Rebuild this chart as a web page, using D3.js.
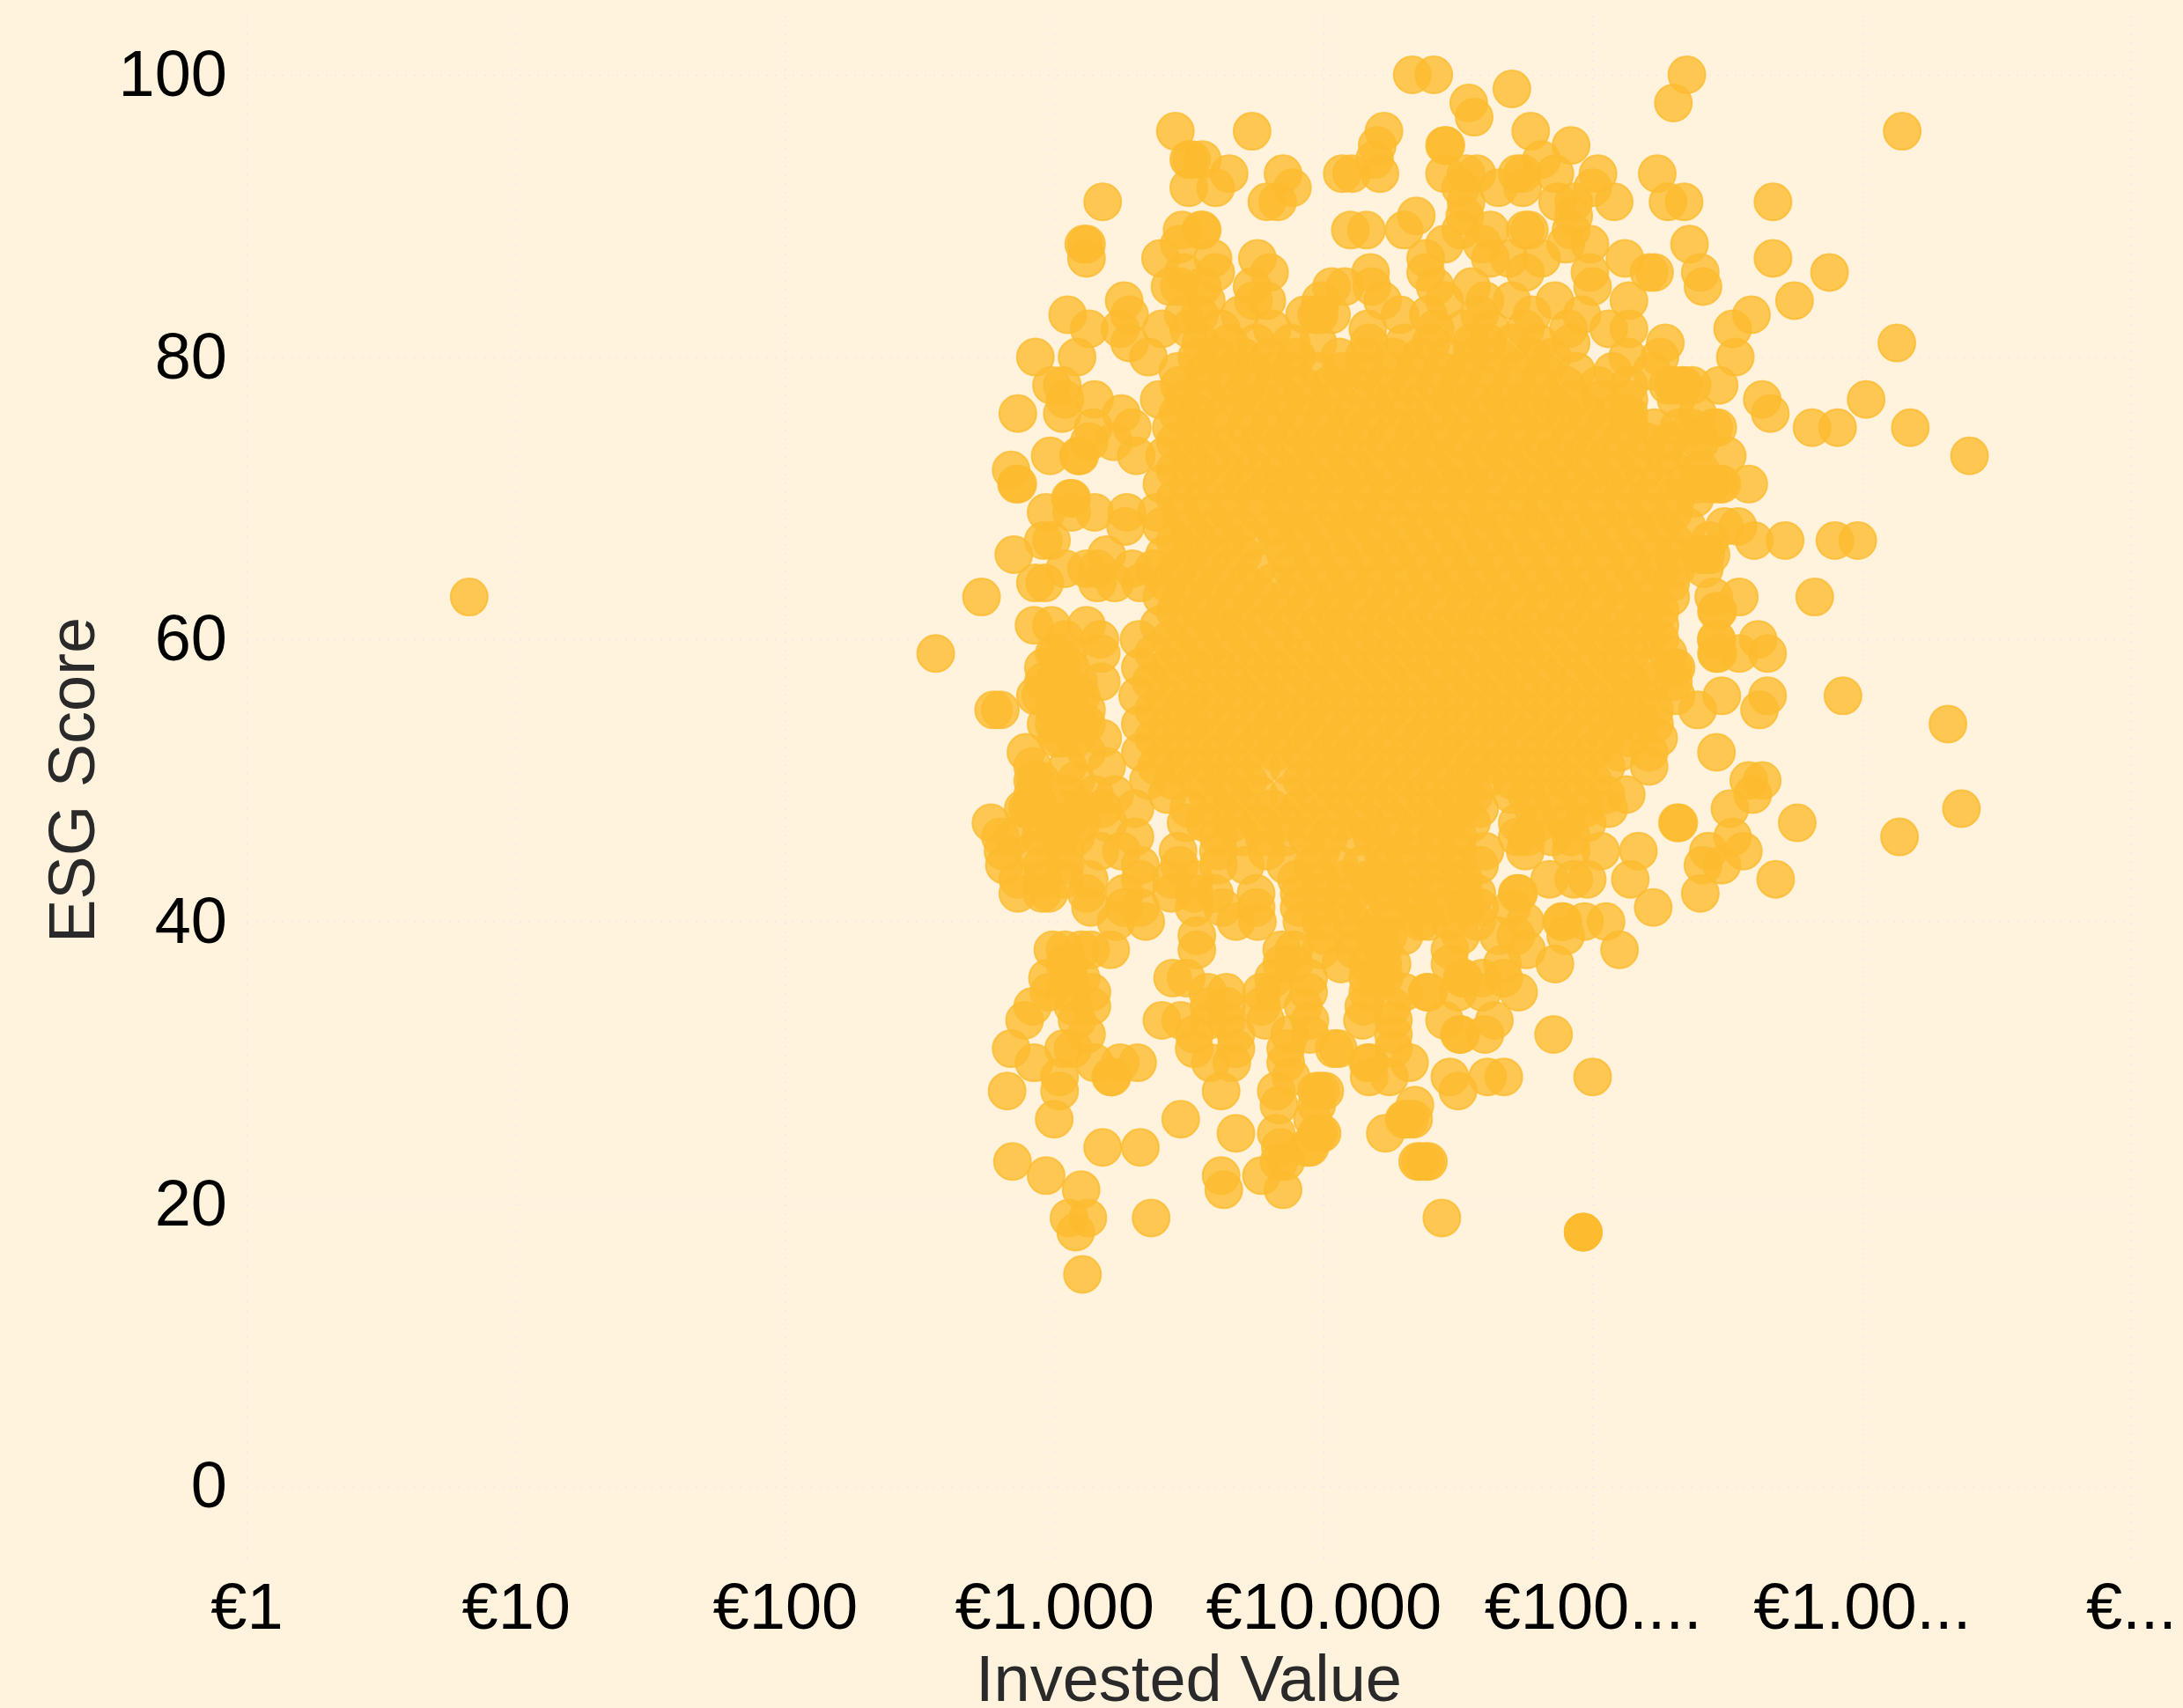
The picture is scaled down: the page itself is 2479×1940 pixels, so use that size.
<!DOCTYPE html>
<html>
<head>
<meta charset="utf-8">
<script src="https://cdn.jsdelivr.net/npm/d3@7"></script>
<style>
  html, body { margin: 0; padding: 0; background: #FFF3DD; }
  svg { display: block; }
  text { font-family: "Liberation Sans", Arial, sans-serif; }
</style>
</head>
<body>
<script>
// tick values and labels
const xTickValues = [1, 10, 100, 1000, 10000, 100000, 1000000, 10000000];
const xTickLabels = ["€1", "€10", "€100", "€1.000", "€10.000", "€100....", "€1.00...", "€..."];
const yTickValues = [0, 20, 40, 60, 80, 100];

// one entry per ESG score
const esgScores = [100, 99, 98, 97, 96, 95, 94, 93, 92, 91, 90, 89, 88, 87, 86, 85, 84, 83, 82, 81, 80, 79, 78,
  77, 76, 75, 74, 73, 72, 71, 70, 69, 68, 67, 66, 65, 64, 63, 62, 61, 60, 59, 58, 57, 56, 55, 54, 53, 52, 51, 50,
  49, 48, 47, 46, 45, 44, 43, 42, 41, 40, 39, 38, 37, 36, 35, 34, 33, 32, 31, 30, 29, 28, 27, 26, 25, 24, 23, 22,
  21, 19, 18, 15];

// log10 of the invested value of each point, same order as esgScores
const investedLog = [
  [4.33, 4.41, 5.35],
  [4.70],
  [4.54, 5.30],
  [4.56],
  [3.45, 3.735, 4.225, 4.77, 6.15],
  [4.20, 4.45, 4.455, 4.92],
  [3.50, 3.51, 3.55, 4.19, 4.81],
  [3.65, 3.85, 4.07, 4.105, 4.21, 4.45, 4.53, 4.57, 4.72, 4.74, 4.86, 5.02, 5.24],
  [3.50, 3.60, 3.885, 4.51, 4.65, 4.74, 5.00],
  [3.18, 3.79, 3.83, 4.53, 4.87, 4.93, 5.08, 5.28, 5.34, 5.67],
  [4.345, 4.525, 4.93],
  [3.475, 3.545, 3.55, 4.10, 4.16, 4.30, 4.51, 4.62, 4.75, 4.765, 4.92],
  [3.11, 3.12, 3.465, 4.45, 4.59, 4.90, 4.99, 5.36],
  [3.12, 3.395, 3.59, 3.755, 4.38, 4.62, 4.69, 4.81, 5.12, 5.67],
  [3.48, 3.60, 3.80, 4.175, 4.38, 4.75, 4.99, 5.21, 5.23, 5.40, 5.88],
  [3.43, 3.465, 3.55, 3.735, 4.03, 4.08, 4.18, 4.415, 4.55, 5.0, 5.41],
  [3.26, 3.565, 3.74, 3.79, 3.99, 4.22, 4.45, 4.60, 4.70, 4.86, 5.135, 5.75],
  [3.05, 3.28, 3.48, 3.54, 3.69, 3.93, 3.975, 3.985, 4.03, 4.285, 4.39, 4.58, 4.775, 4.96, 5.59],
  [3.13, 3.245, 3.40, 3.50, 3.62, 3.81, 4.165, 4.415, 4.52, 4.62, 4.75, 4.91, 5.06, 5.135, 5.52],
  [3.28, 3.545, 3.65, 3.75, 3.88, 3.98, 4.17, 4.30, 4.40, 4.55, 4.61, 4.70, 4.80, 4.92, 5.27, 6.13],
  [2.93, 3.085, 3.35, 3.53, 3.60, 3.70, 3.80, 3.90, 4.06, 4.15, 4.26, 4.36, 4.46, 4.55, 4.65, 4.775, 4.85, 5.13, 5.25, 5.53],
  [3.46, 3.56, 3.66, 3.74, 3.815, 3.88, 3.98, 4.07, 4.15, 4.25, 4.34, 4.44, 4.52, 4.62, 4.72, 4.82, 4.94, 5.075, 5.22],
  [2.99, 3.03, 3.465, 3.55, 3.64, 3.72, 3.82, 3.92, 4.02, 4.12, 4.22, 4.32, 4.42, 4.5, 4.6, 4.7, 4.8, 4.9, 5.02, 5.135, 5.28, 5.30, 5.33, 5.34, 5.37, 5.47],
  [3.04, 3.15, 3.39, 3.48, 3.57, 3.68, 3.77, 3.86, 3.96, 4.05, 4.17, 4.26, 4.37, 4.47, 4.56, 4.66, 4.75, 4.84, 4.93, 5.03, 5.135, 5.31, 5.63, 6.016],
  [2.865, 3.03, 3.25, 3.46, 3.53, 3.63, 3.73, 3.83, 3.92, 4.01, 4.11, 4.2, 4.31, 4.41, 4.51, 4.61, 4.7, 4.8, 4.89, 4.98, 5.07, 5.125, 5.135, 5.39, 5.66],
  [3.145, 3.29, 3.435, 3.52, 3.6, 3.71, 3.8, 3.89, 3.99, 4.08, 4.16, 4.27, 4.35, 4.45, 4.55, 4.64, 4.73, 4.83, 4.94, 5.04, 5.14, 5.23, 5.32, 5.365, 5.45, 5.465, 5.815, 5.91, 6.18],
  [3.13, 3.22, 3.45, 3.55, 3.66, 3.76, 3.85, 3.95, 4.04, 4.13, 4.23, 4.33, 4.42, 4.52, 4.62, 4.71, 4.81, 4.91, 5.0, 5.1, 5.2, 5.28, 5.4],
  [2.985, 3.09, 3.095, 3.305, 3.41, 3.5, 3.59, 3.69, 3.79, 3.9, 3.98, 4.08, 4.19, 4.29, 4.38, 4.48, 4.58, 4.67, 4.77, 4.86, 4.96, 5.06, 5.16, 5.26, 5.37, 5.50, 6.40],
  [2.84, 3.45, 3.54, 3.64, 3.74, 3.84, 3.93, 4.03, 4.12, 4.22, 4.32, 4.41, 4.51, 4.6, 4.7, 4.8, 4.9, 5.0, 5.09, 5.19, 5.3, 5.4],
  [2.86, 2.865, 3.4, 3.5, 3.6, 3.7, 3.8, 3.88, 3.97, 4.07, 4.16, 4.26, 4.36, 4.46, 4.55, 4.65, 4.75, 4.85, 4.94, 5.04, 5.14, 5.24, 5.34, 5.39, 5.44, 5.47, 5.48, 5.58],
  [3.06, 3.065, 3.45, 3.55, 3.66, 3.75, 3.85, 3.95, 4.04, 4.14, 4.24, 4.33, 4.43, 4.53, 4.62, 4.72, 4.82, 4.91, 5.01, 5.11, 5.2, 5.31, 5.38],
  [2.97, 3.065, 3.15, 3.27, 3.38, 3.47, 3.56, 3.65, 3.76, 3.86, 3.94, 4.05, 4.13, 4.22, 4.34, 4.43, 4.54, 4.61, 4.73, 4.81, 4.92, 5.02, 5.12, 5.21, 5.30],
  [3.265, 3.4, 3.5, 3.6, 3.69, 3.81, 3.9, 3.99, 4.09, 4.18, 4.28, 4.38, 4.47, 4.58, 4.67, 4.77, 4.87, 4.96, 5.06, 5.16, 5.26, 5.35, 5.49, 5.54],
  [2.96, 2.99, 3.45, 3.54, 3.64, 3.73, 3.83, 3.93, 4.02, 4.11, 4.21, 4.31, 4.41, 4.5, 4.6, 4.7, 4.79, 4.89, 4.99, 5.08, 5.18, 5.3, 5.435, 5.60, 5.715, 5.90, 5.985],
  [2.85, 3.195, 3.41, 3.5, 3.59, 3.7, 3.86, 3.96, 4.06, 4.16, 4.25, 4.35, 4.45, 4.55, 4.64, 4.74, 4.84, 4.94, 5.03, 5.13, 5.23, 5.30, 5.40, 5.42, 5.44],
  [3.04, 3.12, 3.16, 3.29, 3.37, 3.46, 3.55, 3.65, 3.75, 3.88, 3.98, 4.08, 4.19, 4.28, 4.38, 4.47, 4.57, 4.66, 4.76, 4.86, 4.95, 5.05, 5.15, 5.25, 5.31, 5.415],
  [2.93, 2.965, 3.16, 3.225, 3.32, 3.42, 3.52, 3.61, 3.71, 3.81, 3.91, 4.01, 4.1, 4.2, 4.3, 4.4, 4.5, 4.59, 4.69, 4.79, 4.89, 4.98, 5.08, 5.18, 5.29],
  [0.827, 2.73, 3.40, 3.47, 3.57, 3.67, 3.77, 3.87, 3.96, 4.05, 4.15, 4.25, 4.35, 4.44, 4.54, 4.64, 4.73, 4.83, 4.93, 5.03, 5.12, 5.22, 5.29, 5.45, 5.545, 5.825],
  [3.45, 3.54, 3.63, 3.73, 3.83, 3.93, 4.03, 4.12, 4.22, 4.32, 4.42, 4.52, 4.61, 4.71, 4.81, 4.9, 5.0, 5.1, 5.19, 5.25, 5.46, 5.465],
  [2.925, 2.99, 3.12, 3.39, 3.49, 3.59, 3.68, 3.78, 3.88, 3.98, 4.07, 4.17, 4.27, 4.37, 4.47, 4.56, 4.66, 4.76, 4.86, 4.96, 5.05, 5.15, 5.25],
  [3.04, 3.17, 3.315, 3.43, 3.53, 3.63, 3.72, 3.82, 3.92, 4.02, 4.12, 4.21, 4.31, 4.41, 4.51, 4.62, 4.71, 4.8, 4.91, 5.01, 5.1, 5.2, 5.25, 5.46, 5.46, 5.615],
  [2.56, 3.00, 3.01, 3.05, 3.175, 3.37, 3.47, 3.56, 3.66, 3.76, 3.86, 3.97, 4.06, 4.16, 4.26, 4.36, 4.46, 4.56, 4.65, 4.75, 4.85, 4.95, 5.05, 5.14, 5.28, 5.46, 5.465, 5.545, 5.65],
  [2.96, 3.02, 3.03, 3.06, 3.32, 3.42, 3.52, 3.61, 3.71, 3.81, 3.91, 4.01, 4.11, 4.21, 4.31, 4.41, 4.5, 4.6, 4.7, 4.8, 4.9, 5.0, 5.1, 5.2, 5.30, 5.31],
  [2.96, 3.00, 3.04, 3.09, 3.175, 3.36, 3.46, 3.56, 3.66, 3.76, 3.86, 3.96, 4.05, 4.15, 4.25, 4.35, 4.45, 4.55, 4.65, 4.74, 4.84, 4.94, 5.04, 5.14, 5.22, 5.30],
  [2.93, 2.95, 3.0, 3.02, 3.05, 3.1, 3.31, 3.41, 3.51, 3.61, 3.7, 3.8, 3.9, 4.0, 4.1, 4.2, 4.3, 4.4, 4.49, 4.59, 4.69, 4.79, 4.89, 4.99, 5.09, 5.18, 5.31, 5.48, 5.65, 5.93],
  [2.775, 2.80, 3.0, 3.06, 3.12, 3.37, 3.47, 3.56, 3.66, 3.76, 3.85, 3.95, 4.05, 4.15, 4.25, 4.35, 4.45, 4.55, 4.64, 4.74, 4.84, 4.94, 5.04, 5.13, 5.23, 5.39, 5.62],
  [2.97, 3.0, 3.05, 3.10, 3.12, 3.32, 3.42, 3.51, 3.61, 3.71, 3.81, 3.91, 4.0, 4.1, 4.2, 4.3, 4.4, 4.5, 4.6, 4.69, 4.79, 4.89, 4.99, 5.09, 5.18, 5.23, 6.32],
  [3.01, 3.03, 3.08, 3.18, 3.37, 3.47, 3.57, 3.67, 3.77, 3.86, 3.96, 4.06, 4.16, 4.26, 4.36, 4.45, 4.55, 4.65, 4.75, 4.85, 4.95, 5.05, 5.14, 5.245],
  [2.895, 3.12, 3.32, 3.42, 3.52, 3.62, 3.72, 3.82, 3.92, 4.02, 4.11, 4.21, 4.31, 4.41, 4.5, 4.6, 4.7, 4.8, 4.9, 5.0, 5.1, 5.21, 5.46],
  [2.92, 3.05, 3.195, 3.38, 3.47, 3.57, 3.67, 3.77, 3.87, 3.97, 4.06, 4.16, 4.26, 4.36, 4.46, 4.56, 4.65, 4.75, 4.85, 4.95, 5.05, 5.21],
  [2.92, 2.93, 2.95, 3.08, 3.35, 3.44, 3.53, 3.62, 3.72, 3.92, 4.02, 4.12, 4.22, 4.32, 4.42, 4.52, 4.6, 4.7, 4.8, 4.9, 5.0, 5.58, 5.63],
  [2.92, 3.05, 3.15, 3.225, 3.42, 3.57, 3.66, 3.76, 3.87, 3.97, 4.07, 4.17, 4.27, 4.37, 4.47, 4.56, 4.70, 4.755, 4.85, 4.95, 5.05, 5.125, 5.595],
  [2.885, 2.90, 2.91, 2.95, 3.03, 3.1, 3.18, 3.30, 3.5, 3.61, 3.7, 3.81, 3.91, 4.02, 4.12, 4.22, 4.32, 4.42, 4.51, 4.58, 4.78, 4.88, 4.97, 5.06, 5.51, 6.37],
  [2.765, 2.95, 3.0, 3.05, 3.1, 3.2, 3.49, 3.56, 3.66, 3.76, 3.86, 3.96, 4.06, 4.16, 4.26, 4.36, 4.46, 4.55, 4.72, 4.80, 4.9, 4.98, 5.315, 5.32, 5.76],
  [2.80, 2.85, 2.95, 3.02, 3.08, 3.3, 3.61, 3.7, 3.78, 3.86, 3.94, 4.02, 4.12, 4.18, 4.26, 4.34, 4.42, 4.5, 4.72, 4.755, 4.85, 4.92, 5.52, 6.14],
  [2.81, 2.92, 3.04, 3.17, 3.25, 3.46, 3.61, 3.79, 3.99, 4.22, 4.30, 4.42, 4.5, 4.6, 4.75, 4.92, 5.03, 5.17, 5.43, 5.56],
  [2.815, 2.955, 3.04, 3.32, 3.465, 3.61, 3.71, 3.86, 3.96, 4.06, 4.14, 4.23, 4.32, 4.41, 4.5, 4.58, 5.41, 5.48],
  [2.865, 2.955, 3.04, 3.13, 3.32, 3.435, 3.52, 3.9, 3.99, 4.08, 4.17, 4.2, 4.25, 4.34, 4.43, 4.52, 4.84, 4.93, 4.98, 5.14, 5.68],
  [2.865, 2.955, 2.98, 3.12, 3.26, 3.435, 3.52, 3.595, 3.75, 3.91, 3.99, 4.107, 4.22, 4.31, 4.4, 4.52, 4.57, 4.72, 4.725, 5.40],
  [3.135, 3.26, 3.32, 3.52, 3.625, 3.75, 3.91, 3.99, 4.07, 4.14, 4.25, 4.35, 4.44, 4.53, 4.58, 4.7, 5.225],
  [3.23, 3.34, 3.675, 3.755, 3.92, 3.99, 4.107, 4.22, 4.36, 4.39, 4.47, 4.57, 4.75, 4.885, 4.89, 4.97, 5.05],
  [3.53, 4.005, 4.107, 4.19, 4.24, 4.30, 4.51, 4.65, 4.715, 4.90],
  [2.995, 3.04, 3.10, 3.135, 3.21, 3.53, 3.845, 3.89, 3.99, 4.115, 4.22, 4.47, 4.755, 5.10],
  [3.04, 3.055, 3.845, 3.89, 4.065, 4.165, 4.22, 4.255, 4.47, 4.665, 4.86],
  [2.975, 3.055, 3.10, 3.44, 3.49, 3.815, 3.945, 4.165, 4.20, 4.225, 4.515, 4.52, 4.59, 4.67],
  [2.98, 3.04, 3.14, 3.57, 3.64, 3.77, 3.815, 3.945, 4.165, 4.30, 4.385, 4.39, 4.50, 4.59, 4.725],
  [2.92, 3.07, 3.14, 3.575, 3.64, 3.77, 3.925, 4.15, 4.255],
  [2.89, 3.085, 3.40, 3.47, 3.575, 3.64, 3.785, 3.95, 4.145, 4.26, 4.45, 4.635],
  [3.12, 3.52, 3.675, 3.875, 3.95, 4.26, 4.505, 4.51, 4.60, 4.855],
  [2.84, 3.035, 3.07, 3.52, 3.675, 3.86, 4.04, 4.055, 4.26],
  [2.925, 3.15, 3.245, 3.31, 3.58, 3.66, 3.86, 4.165, 4.17, 4.32],
  [3.02, 3.21, 3.215, 3.88, 4.17, 4.245, 4.47, 4.61, 4.67, 5.00],
  [2.825, 3.02, 3.62, 3.825, 3.975, 3.99, 4.005, 4.50],
  [3.835, 3.975, 4.34],
  [3.00, 3.47, 3.96, 4.30, 4.305, 4.32, 4.335],
  [3.675, 3.825, 3.975, 3.985, 3.995, 4.23],
  [3.18, 3.32, 3.84, 3.94, 3.95],
  [2.845, 3.835, 3.86, 4.35, 4.36, 4.38, 4.39],
  [2.97, 3.62, 3.77],
  [3.10, 3.63, 3.85],
  [3.055, 3.125, 3.36, 4.44],
  [3.08, 4.965, 4.965, 4.965],
  [3.105]
];

const points = esgScores.flatMap((score, i) => investedLog[i].map(l => ({ value: Math.pow(10, l), score: score })));

const width = 2479;
const height = 1940;

const x = d3.scaleLog().domain([1, 10000000]).range([280, 2420]);
const y = d3.scaleLinear().domain([0, 100]).range([1688, 85]);

const svg = d3.select("body")
  .append("svg")
  .attr("width", width)
  .attr("height", height);

svg.append("rect").attr("width", width).attr("height", height).attr("fill", "#FFF3DD");

const plotTop = 10;
const plotBottom = 1770;
const tickFont = 74;
const labelFont = 74;

// axes with the dotted grid drawn as long ticks
const xAxis = svg.append("g")
  .attr("transform", "translate(0," + plotBottom + ")")
  .call(d3.axisBottom(x)
    .tickValues(xTickValues)
    .tickFormat((d, i) => xTickLabels[i])
    .tickSize(-(plotBottom - plotTop))
    .tickPadding(27));

const yAxis = svg.append("g")
  .attr("transform", "translate(280,0)")
  .call(d3.axisLeft(y)
    .tickValues(yTickValues)
    .tickSize(-(2420 - 280))
    .tickPadding(22));

[xAxis, yAxis].forEach(axis => {
  axis.select(".domain").remove();
  axis.selectAll("line")
    .attr("stroke", "#F3ECE6")
    .attr("stroke-width", 2)
    .attr("stroke-dasharray", "2,8");
  axis.selectAll("text")
    .attr("fill", "#000")
    .style("font-family", '"Liberation Sans", Arial, sans-serif')
    .style("font-size", tickFont + "px");
});

svg.append("g")
  .selectAll("circle")
  .data(points)
  .join("circle")
  .attr("cx", d => x(d.value))
  .attr("cy", d => y(d.score))
  .attr("r", 21)
  .attr("fill", "#FDBB30")
  .attr("fill-opacity", 0.8)
  .attr("stroke", "#FDBB30")
  .attr("stroke-opacity", 0.8)
  .attr("stroke-width", 2);

svg.append("text")
  .attr("x", 1350)
  .attr("y", 1932)
  .attr("text-anchor", "middle")
  .attr("fill", "#2A2A2A")
  .style("font-size", labelFont + "px")
  .text("Invested Value");

svg.append("text")
  .attr("transform", "translate(107,886) rotate(-90)")
  .attr("text-anchor", "middle")
  .attr("fill", "#2A2A2A")
  .style("font-size", labelFont + "px")
  .text("ESG Score");
</script>
</body>
</html>
